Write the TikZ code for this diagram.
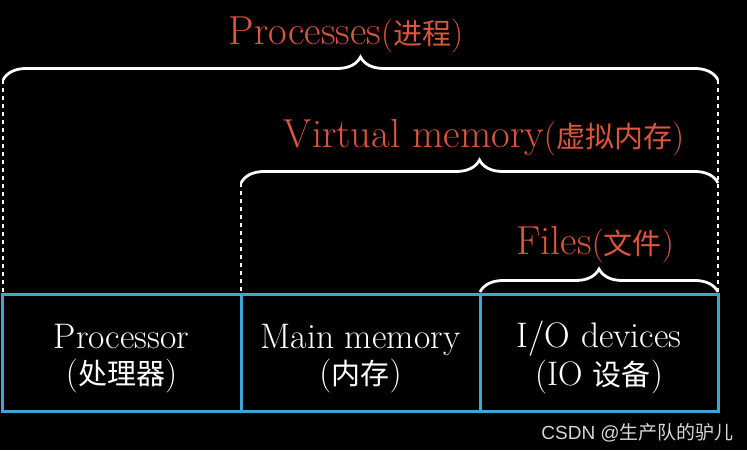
\documentclass[tikz,border=0pt]{standalone}
\usepackage{fontspec}
\newfontfamily\cjk{Noto Sans CJK SC}
\newfontfamily\wmfont{Liberation Sans}
\usetikzlibrary{decorations.pathreplacing}
\definecolor{lblred}{RGB}{218,86,60}
\definecolor{boxblue}{RGB}{62,166,212}
\definecolor{wmgray}{RGB}{215,215,215}
\newcommand\zhpar[3]{{\fontsize{#1}{33}\selectfont(}{\cjk\fontsize{#2}{33}\selectfont #3}{\fontsize{#1}{33}\selectfont)}}
\newcommand\lift{\rule{0pt}{36pt}}
\begin{document}
\begin{tikzpicture}[x=1pt,y=1pt]
\tikzset{
  unit/.style={draw=boxblue, line width=3pt, minimum width=239pt, minimum height=116pt,
    inner sep=0pt, outer sep=0pt, text=white, align=center, font=\fontsize{35.5}{33}\selectfont},
  brc/.style={draw=white, line width=2.8pt, decorate, decoration={brace, amplitude=23pt, aspect=0.5}},
  guide/.style={draw=white, line width=2pt, dash pattern=on 4pt off 4pt},
  lbl/.style={text=lblred, anchor=base, inner sep=0pt, font=\fontsize{40.5}{42}\selectfont}
}
\fill[black] (0,0) rectangle (747,450);
\useasboundingbox (0,0) rectangle (747,450);

% units
\node[unit] (proc) at (121.5,97) {\lift Processor\\[3pt]\zhpar{34}{29}{处理器}};
\node[unit] (mem) at (360.5,97) {\lift Main memory\\[3pt]\zhpar{34}{29}{内存}};
\node[unit, minimum width=238pt] (io) at (599,97) {\lift I/O devices\\[3pt]{\fontsize{34}{33}\selectfont(IO }{\cjk\fontsize{29}{33}\selectfont 设备}{\fontsize{34}{33}\selectfont)}};

% brace end points
\coordinate (pl) at (3,370);
\coordinate (pr) at (718,370);
\coordinate (vl) at (241,267);
\coordinate (vr) at (718,267);
\coordinate (fl) at (480,158);
\coordinate (fr) at (718,158);

% guides
\draw[guide] (pl) -- (pl |- proc.north);
\draw[guide] (pr) -- (pr |- io.north);
\draw[guide] (vl) -- (vl |- mem.north);

% braces
\draw[brc] (pl) -- (pr);
\draw[brc] (vl) -- (vr);
\draw[brc] (fl) -- (fr);

% labels
\node[lbl] (lp) at (346,405) {Processes\zhpar{34}{29}{进程}};
\node[lbl] (lv) at (484,302) {Virtual memory\zhpar{34}{29}{虚拟内存}};
\node[lbl] (lf) at (595,195) {Files\zhpar{34}{29}{文件}};

% watermark
\node[text=wmgray, anchor=base east, inner sep=0pt, font=\wmfont\fontsize{19}{19}\selectfont] (wm) at (734,11) {CSDN @{\cjk 生产队的驴儿}};
\end{tikzpicture}
\end{document}
